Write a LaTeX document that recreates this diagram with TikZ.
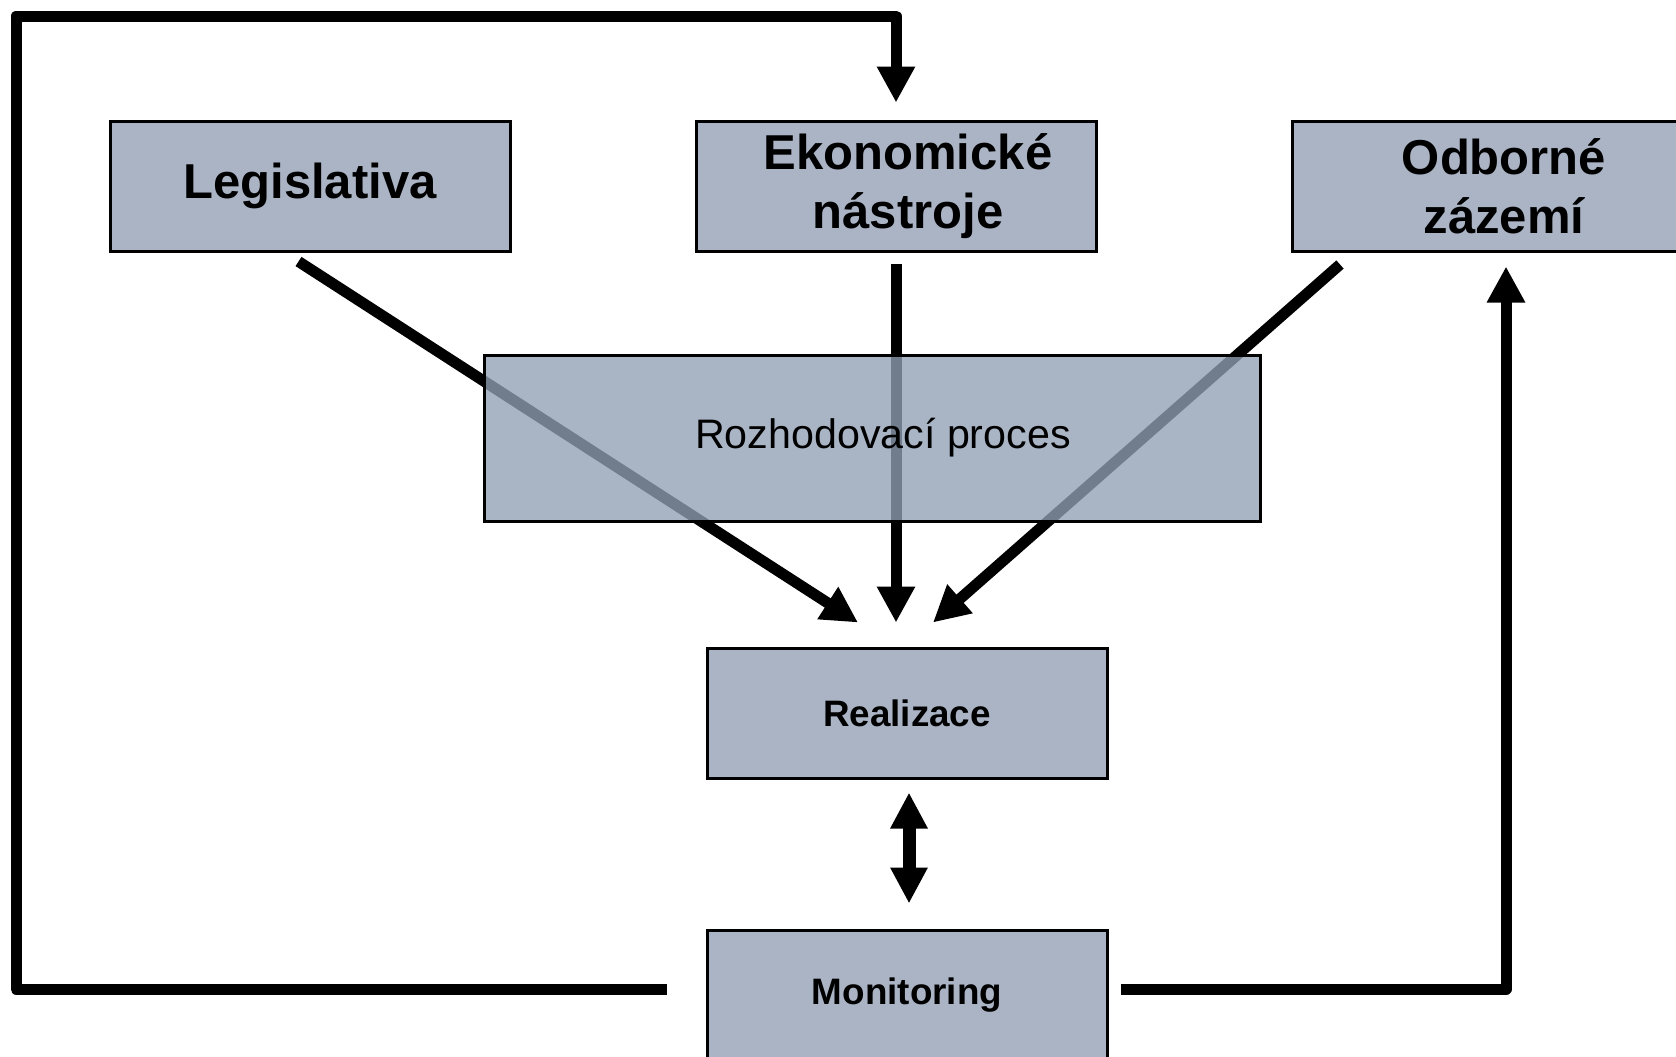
\documentclass[tikz,border=0pt]{standalone}
\usepackage{fontspec}
\setmainfont{Liberation Sans}
\usetikzlibrary{positioning,arrows.meta}

\definecolor{boxfill}{RGB}{170,180,197}
\definecolor{boxfilldark}{RGB}{146,159,181}

\tikzset{
    block/.style={draw,line width=1.5pt,fill=boxfill,minimum width=200pt,minimum height=65pt,align=center},
    bigtext/.style={font=\fontsize{24.5}{29.5}\selectfont\bfseries},
    smalltext/.style={font=\fontsize{18.4}{22}\selectfont\bfseries},
    flow/.style={line width=5.5pt,line join=round,-{Triangle[length=18pt,width=18pt]}},
    twoway/.style={line width=6.5pt,{Triangle[length=18pt,width=17.5pt]}-{Triangle[length=18pt,width=17.5pt]}},
}

\begin{document}
\begin{tikzpicture}[on grid]
    \fill[white] (0,0) rectangle (838pt,-528pt);
    \useasboundingbox (0,0) rectangle (838pt,-528pt);

    \node[block,bigtext] (leg) at (155pt,-93pt) {Legislativa};
    \node[block,bigtext,right=293pt of leg] (eko) {\hspace*{12pt}Ekonomické\\\hspace*{12pt}nástroje};
    \node[block,bigtext,right=298pt of eko] (odb) {\hspace*{12pt}Odborné\\\hspace*{12pt}zázemí};
    \node[block,smalltext,below=263.5pt of eko,xshift=5.5pt] (rea) {Realizace};
    \node[block,smalltext,below=141pt of rea] (mon) {Monitoring};
    \coordinate (corner) at (8pt,-8pt);

    \draw[flow] ([xshift=-5.75pt,yshift=-4.5pt]leg.south) -- ([xshift=-24.5pt,yshift=12pt]rea.north);
    \draw[flow] ([yshift=-5.5pt]eko.south) -- ([xshift=-5.5pt,yshift=12pt]rea.north);
    \draw[flow] ([xshift=-76pt,yshift=-6pt]odb.south) -- ([xshift=13pt,yshift=12pt]rea.north);
    \draw[flow] ([xshift=-19.5pt,yshift=3pt]mon.west) -| (corner) -| ([yshift=8.5pt]eko.north);
    \draw[flow] ([xshift=6pt,yshift=3pt]mon.east) -| ([xshift=7pt,yshift=-7pt]odb.south);
    \draw[twoway] ([xshift=1pt,yshift=-6.5pt]rea.south) -- ([xshift=1pt,yshift=12.5pt]mon.north);

    \node[block,minimum width=388pt,minimum height=83pt,fill=boxfilldark,fill opacity=0.78,text opacity=1,
        font=\fontsize{20.6}{24}\selectfont,below=126pt of eko,xshift=-12pt] (roz) {\hspace*{11pt}Rozhodovací proces};
\end{tikzpicture}
\end{document}
